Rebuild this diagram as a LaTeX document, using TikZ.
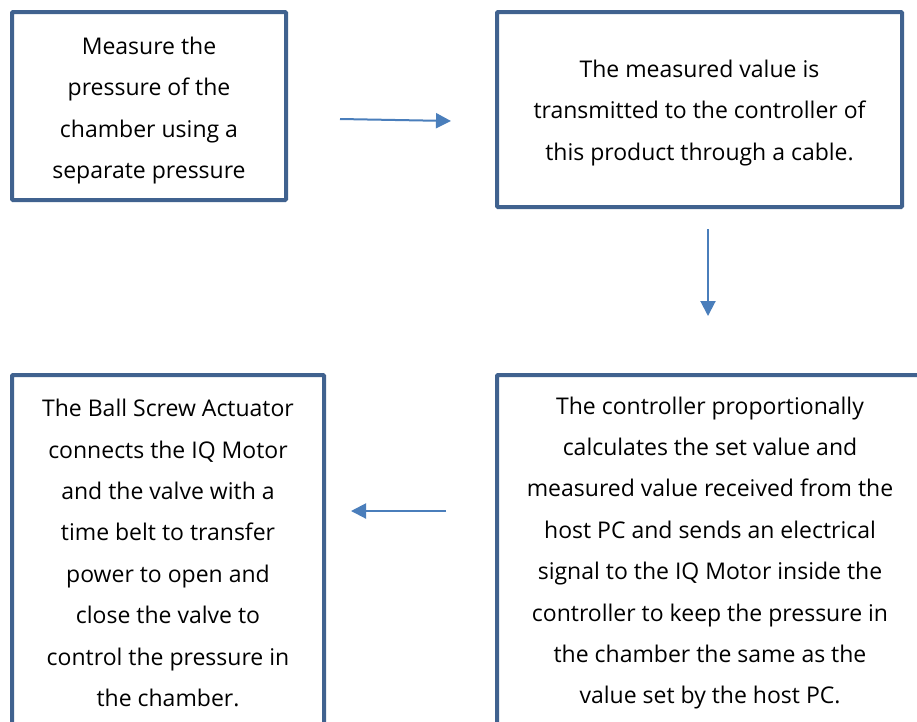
\documentclass[tikz,border=0pt]{standalone}
\usepackage{fontspec}
\setmainfont{Open Sans}
\usetikzlibrary{arrows.meta}
\definecolor{boxline}{RGB}{64,98,143}
\definecolor{flow}{RGB}{74,126,187}
\tikzset{
  boxtext/.style={align=center, font=\fontsize{23}{41.4}\selectfont},
  stepbox/.style={draw=boxline, line width=4pt, rounded corners=1pt, fill=white,
    inner sep=0pt, boxtext},
  flowarrow/.style={draw=flow, line width=2pt, -{Triangle[length=15pt,width=15pt]}}
}
\begin{document}
\begin{tikzpicture}[x=1pt,y=-1pt]
  \useasboundingbox (0,0) rectangle (917,721);
  \clip (0,0) rectangle (917,721);
  \fill[white] (0,0) rectangle (917,721);

  % process boxes
  \node[stepbox, minimum width=274pt, minimum height=188pt] (measure) at (149,106) {};
  \node[boxtext] (measuretext) at (149,110.5)
    {Measure the\\pressure of the\\chamber using a\\separate pressure};
  \node[stepbox, minimum width=405pt, minimum height=195pt] (transmit) at (699.5,109.5) {};
  \node[boxtext] (transmittext) at (699.5,113)
    {The measured value is\\transmitted to the controller of\\this product through a cable.};
  \node[stepbox, minimum width=312pt, minimum height=400pt, anchor=north] (actuator) at (168,373) {};
  \node[boxtext] (actuatortext) at (168,553)
    {The Ball Screw Actuator\\connects the IQ Motor\\and the valve with a\\time belt to transfer\\power to open and\\close the valve to\\control the pressure in\\the chamber.};
  \node[stepbox, minimum width=430pt, minimum height=400pt, anchor=north west] (control) at (495,373) {};
  \node[boxtext] (controltext) at (710,553)
    {The controller proportionally\\calculates the set value and\\measured value received from the\\host PC and sends an electrical\\signal to the IQ Motor inside the\\controller to keep the pressure in\\the chamber the same as the\\value set by the host PC.};

  % arrow end points in the gaps between boxes
  \coordinate (m-out) at (340,119);
  \coordinate (t-in) at (451,121);
  \coordinate (t-out) at (708,229);
  \coordinate (c-in) at (708,316);
  \coordinate (c-out) at (446,511);
  \coordinate (a-in) at (351,511);

  \draw[flowarrow] (m-out) -- (t-in);
  \draw[flowarrow] (t-out) -- (c-in);
  \draw[flowarrow] (c-out) -- (a-in);
\end{tikzpicture}
\end{document}
